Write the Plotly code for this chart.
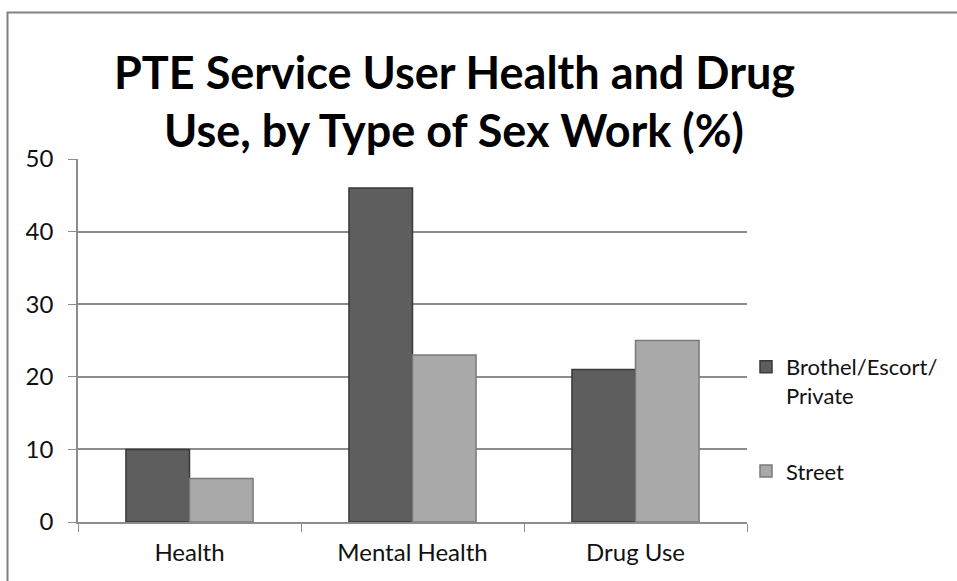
import plotly.graph_objects as go

# Survey results: share of service users reporting each issue (%)
categories = ["Health", "Mental Health", "Drug Use"]
brothel_escort_private = [10, 46, 21]
street = [6, 23, 25]
series_names = ["Brothel/Escort/<br>Private", "Street"]
y_ticks = [0, 10, 20, 30, 40, 50]
title_lines = ["PTE Service User Health and Drug", "Use, by Type of Sex Work (%)"]

FONT = "Lato, Open Sans, sans-serif"

fig = go.Figure()
fig.add_trace(go.Bar(
    x=categories, y=brothel_escort_private, name=series_names[0],
    legendgroup="a",
    marker=dict(color="#5e5e5e", line=dict(color="#3a3a3a", width=1.5)),
))
fig.add_trace(go.Bar(
    x=categories, y=street, name=series_names[1],
    legendgroup="b",
    marker=dict(color="#a9a9a9", line=dict(color="#7a7a7a", width=1.5)),
))

# Plot-area geometry in pixels, used to place the frame, title and legend
W, H = 957, 581
L, R, T, B = 78, 210, 159, 59
pw, ph = W - L - R, H - T - B

def px_to_paper_x(px):
    return (px - L) / pw

def px_to_paper_y(py):
    return (H - B - py) / ph

annotations = [
    dict(text="<b>%s</b>" % line, xref="paper", yref="paper",
         x=px_to_paper_x(454), y=px_to_paper_y(cy),
         xanchor="center", yanchor="middle", showarrow=False,
         font=dict(family=FONT, size=45, color="#000000"))
    for line, cy in zip(title_lines, [72, 130])
]

fig.update_layout(
    width=W, height=H,
    margin=dict(l=L, r=R, t=T, b=B, autoexpand=False),
    paper_bgcolor="white", plot_bgcolor="white",
    barmode="group", bargap=0.43, bargroupgap=0,
    font=dict(family=FONT, color="#111111", size=24),
    xaxis=dict(
        showline=True, linecolor="#8c8c8c", linewidth=1.5,
        ticks="outside", tickson="boundaries", ticklen=8, tickcolor="#8c8c8c",
        showgrid=False, tickfont=dict(size=24), ticklabelstandoff=8,
    ),
    yaxis=dict(
        range=[0, 50], tickvals=y_ticks,
        showline=True, linecolor="#8c8c8c", linewidth=1.5,
        ticks="outside", ticklen=8, tickcolor="#8c8c8c",
        showgrid=True, gridcolor="#8c8c8c", gridwidth=1.5,
        zeroline=False, tickfont=dict(size=24), ticklabelstandoff=10,
    ),
    legend=dict(
        x=px_to_paper_x(746), xanchor="left",
        y=px_to_paper_y(346), yanchor="top",
        font=dict(size=22), tracegroupgap=44, itemwidth=30, valign="top",
        bgcolor="rgba(0,0,0,0)",
    ),
    annotations=annotations,
    shapes=[dict(
        type="rect", xref="paper", yref="paper",
        x0=px_to_paper_x(7.5), x1=px_to_paper_x(W + 20),
        y0=px_to_paper_y(H + 20), y1=px_to_paper_y(12.5),
        line=dict(color="#808080", width=2), layer="below",
    )],
)

fig.write_html("out.html")
